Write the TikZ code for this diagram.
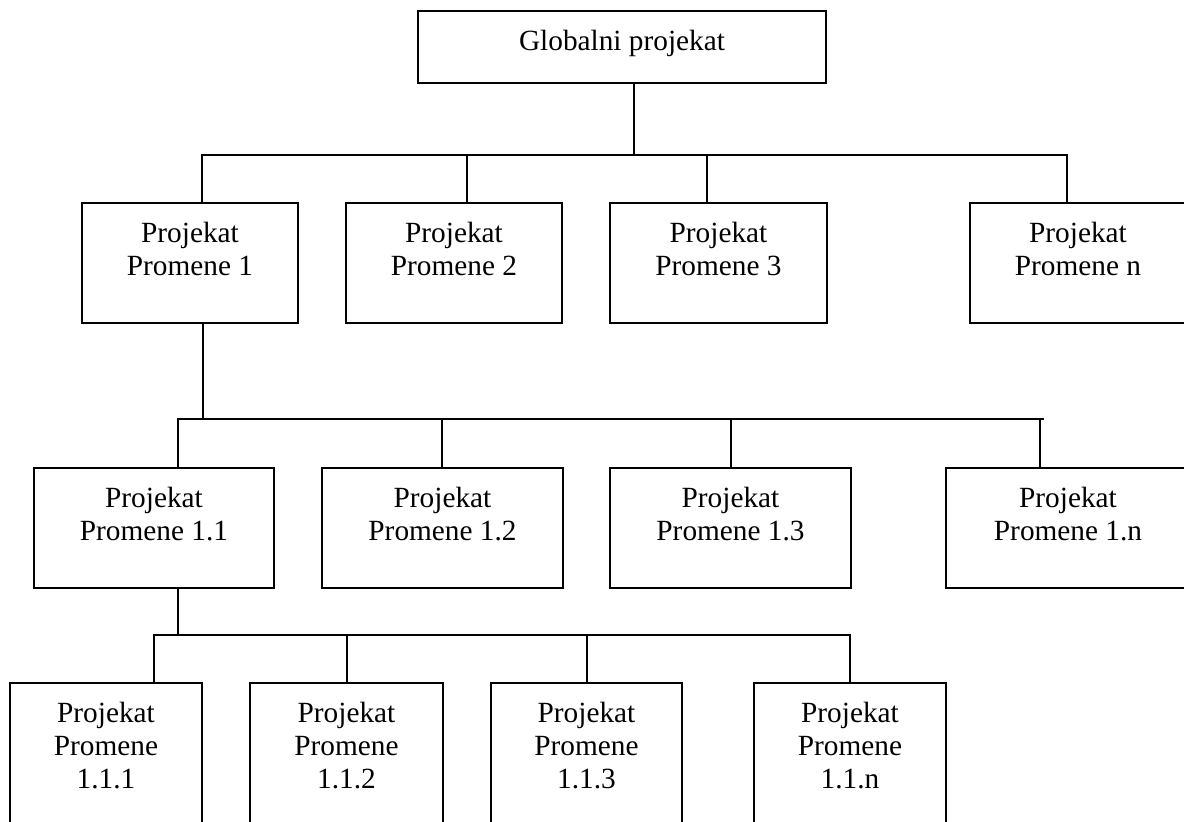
\documentclass[tikz,border=0pt]{standalone}
\usepackage{fontspec}
\setmainfont{Liberation Serif}
\begin{document}
\begin{tikzpicture}[x=1pt, y=-1pt,
  line width=1.8pt,
  box/.style={draw, rectangle, inner sep=0pt, outer sep=0pt, anchor=north west},
  boxtext/.style={anchor=north, yshift=-18.5pt, align=center, inner sep=0pt,
    font=\fontsize{29.3}{33}\selectfont},
  link/.style={draw, line join=miter, line cap=rect}]
\useasboundingbox (0,0) rectangle (1184,822);
\clip (0,0) rectangle (1184,822);

% root
\node[box, minimum width=408pt, minimum height=72pt,
  label={[boxtext]north:Globalni projekat}] (g) at (418,11) {};

% first level
\node[box, minimum width=216pt, minimum height=120pt,
  label={[boxtext]north:Projekat\\Promene 1}] (p1) at (82,203) {};
\node[box, minimum width=216pt, minimum height=120pt,
  label={[boxtext]north:Projekat\\Promene 2}] (p2) at (346,203) {};
\node[box, minimum width=217pt, minimum height=120pt,
  label={[boxtext]north:Projekat\\Promene 3}] (p3) at (610,203) {};
\node[box, minimum width=216pt, minimum height=120pt,
  label={[boxtext]north:Projekat\\Promene n}] (p4) at (970,203) {};

% second level
\node[box, minimum width=240pt, minimum height=120pt,
  label={[boxtext]north:Projekat\\Promene 1.1}] (q1) at (34,468) {};
\node[box, minimum width=241pt, minimum height=120pt,
  label={[boxtext]north:Projekat\\Promene 1.2}] (q2) at (322,468) {};
\node[box, minimum width=241pt, minimum height=120pt,
  label={[boxtext]north:Projekat\\Promene 1.3}] (q3) at (610,468) {};
\node[box, minimum width=244pt, minimum height=120pt,
  label={[boxtext]north:Projekat\\Promene 1.n}] (q4) at (946,468) {};

% third level
\node[box, minimum width=192pt, minimum height=200pt,
  label={[boxtext]north:Projekat\\Promene\\1.1.1}] (r1) at (10,683) {};
\node[box, minimum width=193pt, minimum height=200pt,
  label={[boxtext]north:Projekat\\Promene\\1.1.2}] (r2) at (250,683) {};
\node[box, minimum width=191pt, minimum height=200pt,
  label={[boxtext]north:Projekat\\Promene\\1.1.3}] (r3) at (491,683) {};
\node[box, minimum width=192pt, minimum height=200pt,
  label={[boxtext]north:Projekat\\Promene\\1.1.n}] (r4) at (754,683) {};

% junction points on the buses
\coordinate (j0) at (634,155);
\coordinate (d1) at (202,155);
\coordinate (d2) at (467,155);
\coordinate (d3) at (707,155);
\coordinate (d4) at (1067,155);

\coordinate (e0) at (203,419);
\coordinate (e1) at (178,419);
\coordinate (e2) at (442,419);
\coordinate (e3) at (731,419);
\coordinate (e4) at (1040,419);
\coordinate (e5) at (1043,419);

\coordinate (f0) at (178,635);
\coordinate (f1) at (154,635);
\coordinate (f2) at (347,635);
\coordinate (f3) at (587,635);
\coordinate (f4) at (850,635);

% root to first level
\draw[link] (g.south -| j0) -- (j0);
\draw[link] (d1 |- p1.north) -- (d1) -- (d4) -- (d4 |- p4.north);
\draw[link] (d2) -- (d2 |- p2.north);
\draw[link] (d3) -- (d3 |- p3.north);

% first level to second level
\draw[link] (p1.south -| e0) -- (e0);
\draw[link] (e1 |- q1.north) -- (e1) -- (e5);
\draw[link] (e2) -- (e2 |- q2.north);
\draw[link] (e3) -- (e3 |- q3.north);
\draw[link] (e4) -- (e4 |- q4.north);

% second level to third level
\draw[link] (q1.south -| f0) -- (f0);
\draw[link] (f1 |- r1.north) -- (f1) -- (f4) -- (f4 |- r4.north);
\draw[link] (f2) -- (f2 |- r2.north);
\draw[link] (f3) -- (f3 |- r3.north);
\end{tikzpicture}
\end{document}
